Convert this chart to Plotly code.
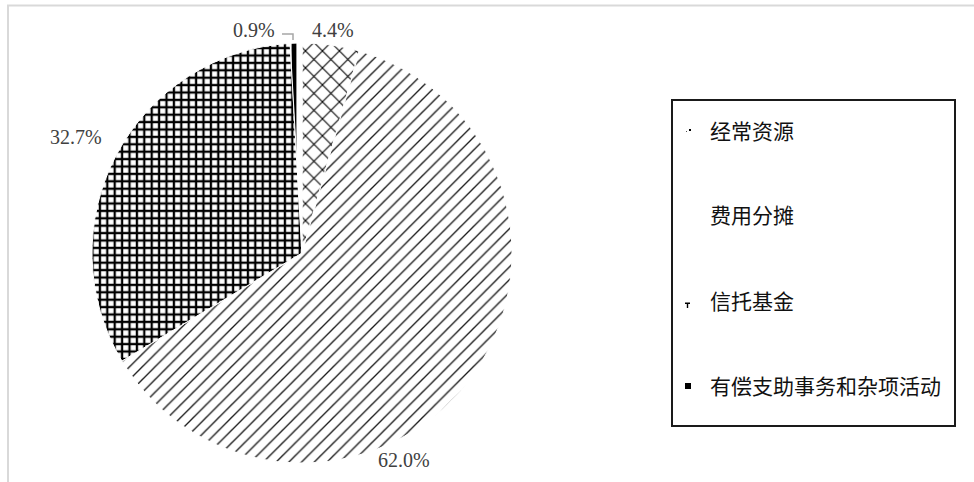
import plotly.graph_objects as go

# Funding sources (share of total, %)
categories = ["经常资源", "费用分摊", "信托基金", "有偿支助事务和杂项活动"]
shares = [4.4, 62.0, 32.7, 0.9]

W, H = 974, 482


def px(x):
    return x / W


def py(y):
    return 1 - y / H


# pie geometry in pixels
CX, CY, R = 302, 253, 210

patterns = [
    dict(shape="x", size=12, solidity=0.17, fgcolor="black", bgcolor="white"),
    dict(shape="/", size=9, solidity=0.15, fgcolor="#1a1a1a", bgcolor="white"),
    dict(shape="+", size=7.4, solidity=0.52, fgcolor="black", bgcolor="white"),
    dict(shape="|", size=12, solidity=0.4, fgcolor="black", bgcolor="white"),
]

fig = go.Figure(
    go.Pie(
        labels=categories,
        values=shares,
        sort=False,
        direction="clockwise",
        rotation=0,
        textinfo="none",
        hoverinfo="label+percent",
        showlegend=False,
        marker=dict(
            colors=["white"] * 4,
            pattern=dict(
                shape=[p["shape"] for p in patterns],
                size=[p["size"] for p in patterns],
                solidity=[p["solidity"] for p in patterns],
                fgcolor=[p["fgcolor"] for p in patterns],
                bgcolor=[p["bgcolor"] for p in patterns],
            ),
            line=dict(color="white", width=1),
        ),
        domain=dict(
            x=[px(CX - R), px(CX + R)],
            y=[py(CY + R), py(CY - R)],
        ),
    )
)

# data labels (value text, pixel anchor)
label_pos = [(333, 30), (404, 460), (76, 137), (254, 30)]
annotations = []
for v, (lx, ly) in zip(shares, label_pos):
    annotations.append(
        dict(
            x=px(lx), y=py(ly), xref="paper", yref="paper",
            text=f"{v:.1f}%", showarrow=False,
            xanchor="center", yanchor="middle",
            font=dict(family="Liberation Serif", size=20, color="#404040"),
        )
    )

# legend entries
LEG_X0, LEG_Y0, LEG_X1, LEG_Y1 = 672, 100, 955, 426
legend_rows = [130, 214, 300, 385]
for name, ly in zip(categories, legend_rows):
    annotations.append(
        dict(
            x=px(708), y=py(ly), xref="paper", yref="paper",
            text=name, showarrow=False,
            xanchor="left", yanchor="middle",
            font=dict(family="Noto Sans CJK SC", size=21, color="#111111"),
        )
    )

shapes = [
    # outer frame
    dict(type="rect", xref="paper", yref="paper",
         x0=px(8), y0=-0.05, x1=1.05, y1=py(5.5),
         line=dict(color="#d9d9d9", width=2), fillcolor="rgba(0,0,0,0)", layer="below"),
    # legend box
    dict(type="rect", xref="paper", yref="paper",
         x0=px(LEG_X0), y0=py(LEG_Y1), x1=px(LEG_X1), y1=py(LEG_Y0),
         line=dict(color="#1a1a1a", width=2), fillcolor="rgba(0,0,0,0)"),
    # leader line for the small slice
    dict(type="path", xref="paper", yref="paper",
         path=f"M {px(282)},{py(34)} L {px(293)},{py(34)} L {px(293)},{py(40)}",
         line=dict(color="#a6a6a6", width=1.5)),
    # legend swatches
    dict(type="rect", xref="paper", yref="paper",
         x0=px(689), y0=py(131), x1=px(691), y1=py(129),
         line=dict(width=0), fillcolor="black"),
    dict(type="rect", xref="paper", yref="paper",
         x0=px(686), y0=py(132), x1=px(687), y1=py(131),
         line=dict(width=0), fillcolor="#555555"),
    dict(type="rect", xref="paper", yref="paper",
         x0=px(685), y0=py(304), x1=px(690), y1=py(302.5),
         line=dict(width=0), fillcolor="black"),
    dict(type="rect", xref="paper", yref="paper",
         x0=px(686.8), y0=py(308), x1=px(688.2), y1=py(303),
         line=dict(width=0), fillcolor="black"),
    dict(type="rect", xref="paper", yref="paper",
         x0=px(685), y0=py(389), x1=px(691), y1=py(383),
         line=dict(width=0), fillcolor="black"),
]

fig.update_layout(
    width=W, height=H,
    margin=dict(l=0, r=0, t=0, b=0),
    paper_bgcolor="white",
    plot_bgcolor="white",
    annotations=annotations,
    shapes=shapes,
)

fig.write_html("out.html")
